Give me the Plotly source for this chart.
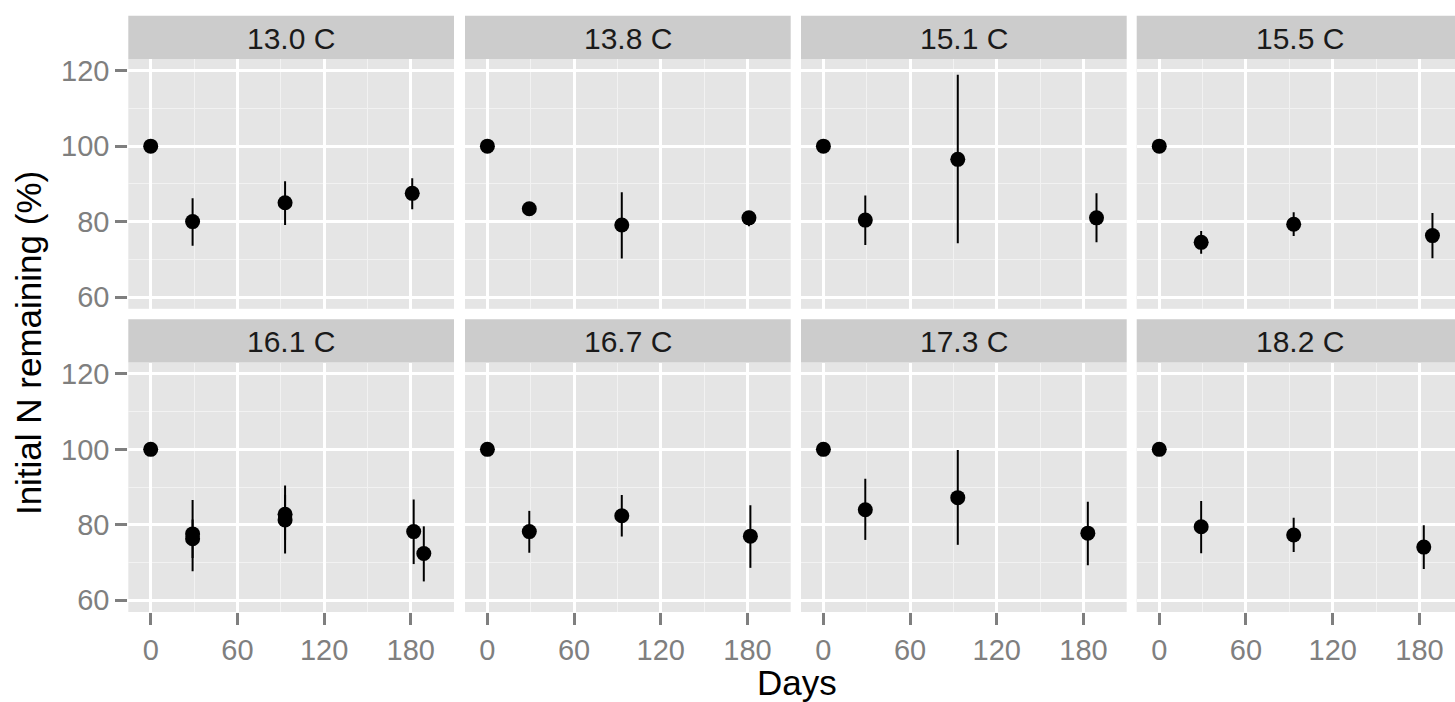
import plotly.graph_objects as go

# ---------------- data ----------------
panel_labels = ["13.0 C", "13.8 C", "15.1 C", "15.5 C",
                "16.1 C", "16.7 C", "17.3 C", "18.2 C"]

panel = [0, 0, 0, 0,
         1, 1, 1, 1,
         2, 2, 2, 2,
         3, 3, 3, 3,
         4, 4, 4, 4, 4, 4, 4,
         5, 5, 5, 5,
         6, 6, 6, 6,
         7, 7, 7, 7]
day = [0, 29, 93, 181,
       0, 29, 93, 181,
       0, 29, 93, 189,
       0, 29, 93, 189,
       0, 29, 29, 93, 93, 182, 189,
       0, 29, 93, 182,
       0, 29, 93, 183,
       0, 29, 93, 183]
mean = [100, 80.0, 85.0, 87.5,
        100, 83.4, 79.1, 81.0,
        100, 80.4, 96.5, 81.0,
        100, 74.5, 79.3, 76.3,
        100, 77.6, 76.3, 82.8, 81.3, 78.2, 72.4,
        100, 78.2, 82.4, 77.0,
        100, 84.0, 87.2, 77.8,
        100, 79.5, 77.3, 74.1]
lower = [100, 73.6, 79.1, 83.3,
         100, 82.3, 70.2, 78.8,
         100, 73.8, 74.3, 74.5,
         100, 71.5, 76.2, 70.3,
         100, 67.7, 71.2, 76.0, 72.4, 69.6, 65.0,
         100, 72.6, 76.9, 68.6,
         100, 76.0, 74.7, 69.3,
         100, 72.5, 72.8, 68.3]
upper = [100, 86.2, 90.7, 91.5,
         100, 84.5, 87.8, 82.5,
         100, 86.9, 118.9, 87.5,
         100, 77.5, 82.5, 82.3,
         100, 86.6, 81.4, 90.4, 88.0, 86.7, 79.6,
         100, 83.7, 87.9, 85.2,
         100, 92.2, 99.8, 86.1,
         100, 86.3, 81.9, 79.9]

x_ticks = [0, 60, 120, 180]
y_ticks = [60, 80, 100, 120]
x_title = "Days"
y_title = "Initial N remaining (%)"

# ---------------- layout geometry (pixels) ----------------
W, H = 1455, 702
def X(px):
    return px / W
def Y(px):
    return 1 - px / H

col_l = [128.3, 465.0, 801.0, 1136.7]
col_r = [454.0, 790.7, 1126.7, 1455.0]
strip_top = [12.0, 319.0]
panel_top = [56.0, 362.7]
panel_bot = [308.3, 615.0]

x_ranges = [[-15.5, 209.9], [-15.5, 209.9], [-15.5, 209.9], [-15.6, 204.6]]
y_range = [56.9, 123.0]

FONT = "Liberation Sans, Arial, Helvetica, sans-serif"
GRAY = "#7f7f7f"
TICK_SIZE = 29
STRIP_SIZE = 30
TITLE_SIZE = 35

fig = go.Figure()
shapes = []
annotations = []
layout = {}

for i, lab in enumerate(panel_labels):
    row, col = divmod(i, 4)
    n = i + 1
    xs = [d for p, d in zip(panel, day) if p == i]
    ys = [m for p, m in zip(panel, mean) if p == i]
    lo = [m - l for p, m, l in zip(panel, mean, lower) if p == i]
    hi = [u - m for p, m, u in zip(panel, mean, upper) if p == i]
    fig.add_trace(go.Scatter(
        x=xs, y=ys, mode="markers",
        marker=dict(color="black", size=15),
        error_y=dict(type="data", symmetric=False, array=hi, arrayminus=lo,
                     width=0, thickness=2, color="black"),
        xaxis=f"x{n}", yaxis=f"y{n}", showlegend=False, hoverinfo="skip",
    ))
    show_x = row == 1
    show_y = col == 0
    xa = dict(
        domain=[X(col_l[col]), X(col_r[col])],
        range=x_ranges[col], anchor=f"y{n}",
        tickmode="array", tickvals=x_ticks, ticktext=[str(t) for t in x_ticks],
        showticklabels=show_x, ticks="outside" if show_x else "",
        ticklen=12, tickwidth=2.5, tickcolor=GRAY,
        tickfont=dict(family=FONT, size=TICK_SIZE, color=GRAY),
        showgrid=True, gridcolor="white", gridwidth=2.6,
        minor=dict(tickvals=[30, 90, 150], showgrid=True,
                   gridcolor="#f2f2f2", gridwidth=1.3, ticks=""),
        zeroline=False, showline=False, fixedrange=True,
    )
    ya = dict(
        domain=[Y(panel_bot[row]), Y(panel_top[row])],
        range=y_range, anchor=f"x{n}",
        tickmode="array", tickvals=y_ticks, ticktext=[str(t) for t in y_ticks],
        showticklabels=show_y, ticks="outside" if show_y else "",
        ticklen=12, tickwidth=2.5, tickcolor=GRAY,
        tickfont=dict(family=FONT, size=TICK_SIZE, color=GRAY),
        showgrid=True, gridcolor="white", gridwidth=2.6,
        minor=dict(tickvals=[70, 90, 110], showgrid=True,
                   gridcolor="#f2f2f2", gridwidth=1.3, ticks=""),
        zeroline=False, showline=False, fixedrange=True,
    )
    layout["xaxis" if n == 1 else f"xaxis{n}"] = xa
    layout["yaxis" if n == 1 else f"yaxis{n}"] = ya

    # facet strip
    shapes.append(dict(type="rect", xref="paper", yref="paper",
                       x0=X(col_l[col]), x1=X(col_r[col]),
                       y0=Y(panel_top[row]), y1=Y(strip_top[row]),
                       fillcolor="#cccccc", line=dict(width=0), layer="below"))
    strip_right = col_l[col] + 325.7
    annotations.append(dict(
        text=lab, xref="paper", yref="paper",
        x=X((col_l[col] + strip_right) / 2), y=Y((strip_top[row] + panel_top[row]) / 2 + 1),
        xanchor="center", yanchor="middle", showarrow=False,
        font=dict(family=FONT, size=STRIP_SIZE, color="#1a1a1a"),
    ))

annotations.append(dict(
    text=x_title, xref="paper", yref="paper", x=X(796.5), y=Y(686),
    xanchor="center", yanchor="middle", showarrow=False,
    font=dict(family=FONT, size=TITLE_SIZE, color="black"),
))
annotations.append(dict(
    text=y_title, xref="paper", yref="paper", x=X(28), y=Y(343),
    xanchor="center", yanchor="middle", showarrow=False, textangle=-90,
    font=dict(family=FONT, size=TITLE_SIZE, color="black"),
))

fig.update_layout(
    width=W, height=H, autosize=False,
    margin=dict(l=0, r=0, t=0, b=0, pad=0),
    paper_bgcolor="white", plot_bgcolor="#e5e5e5",
    shapes=shapes, annotations=annotations,
    font=dict(family=FONT),
    **layout,
)

fig.write_html(
    "out.html",
    config={"displayModeBar": False},
    post_script="document.body.style.margin='0';document.body.style.overflow='hidden';",
)
